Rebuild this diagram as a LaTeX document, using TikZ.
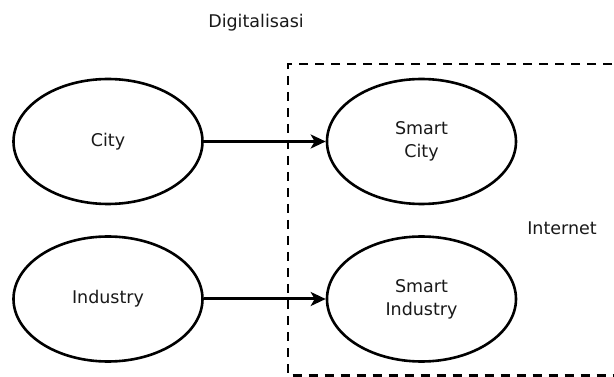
\documentclass[tikz,border=0pt]{standalone}
\usepackage{fontspec}
\setmainfont{DejaVu Sans}
\usetikzlibrary{shapes.geometric,arrows.meta}
\begin{document}
\begin{tikzpicture}[x=1pt,y=-1pt,
  bubble/.style={ellipse,draw=black,line width=2.6pt,minimum width=189pt,minimum height=125pt,
    inner sep=0pt,align=center,font=\fontsize{17.5}{23}\selectfont,text=black!90},
  label/.style={font=\fontsize{17.5}{23}\selectfont,text=black!90,inner sep=0pt},
  flow/.style={line width=3pt,-{Stealth[length=15pt,width=14pt,inset=4pt]}},
  zone/.style={line width=2.6pt,dash pattern=on 9pt off 7pt}]
\useasboundingbox (0,0) rectangle (614,377);
\clip (0,0) rectangle (614,377);
\fill[white] (0,0) rectangle (614,377);

% dashed boundary of the internet zone (open to the right)
\coordinate (zTR) at (660,64);
\coordinate (zTL) at (288,64);
\coordinate (zBL) at (288,375.5);
\coordinate (zBR) at (660,375.5);
\draw[zone] (zTR) -- (zTL) -- (zBL) -- (zBR);

\node[label] (dig) at (256,23) {Digitalisasi};
\node[label] (inet) at (562,228) {Internet};

\node[bubble] (city) at (108,141.5) {City};
\node[bubble] (ind) at (108,299) {Industry};
\node[bubble] (scity) at (421.5,141.5) {Smart\\City};
\node[bubble] (sind) at (421.5,299) {Smart\\Industry};

\draw[flow] (city) -- (scity);
\draw[flow] (ind) -- (sind);
\end{tikzpicture}
\end{document}
